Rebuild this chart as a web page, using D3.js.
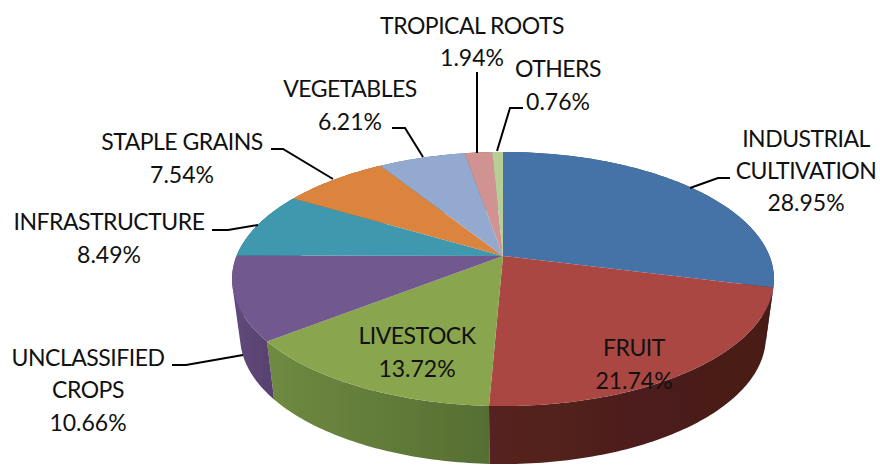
<!DOCTYPE html>
<html>
<head>
<meta charset="utf-8">
<script src="https://cdn.jsdelivr.net/npm/d3@7"></script>
<style>
  html, body { margin: 0; padding: 0; background: #fff; }
  text { font-family: Lato, "Open Sans", sans-serif; font-size: 23px; fill: #111; text-anchor: middle; }
  text.word { letter-spacing: -0.5px; }
</style>
</head>
<body>
<svg id="chart" width="880" height="466"></svg>
<script>
// Data
var categories = [["INDUSTRIAL", "CULTIVATION"], ["FRUIT"], ["LIVESTOCK"], ["UNCLASSIFIED", "CROPS"], ["INFRASTRUCTURE"], ["STAPLE GRAINS"], ["VEGETABLES"], ["TROPICAL ROOTS"], ["OTHERS"]];
var shares = [28.95, 21.74, 13.72, 10.66, 8.49, 7.54, 6.21, 1.94, 0.76];

// Styles
var topColors = ["#4573a7", "#aa4643", "#89a54e", "#71588f", "#4198af", "#db843d", "#93a9cf", "#d19392", "#b9cd96"];
var wallLeft = ["#2f4d72", "#552220", "#6f8a40", "#604a7c", "#2c6676", "#94592a", "#64738d", "#8e6463", "#7e8b66"];
var wallRight = ["#24405f", "#471b17", "#566e33", "#57416f", "#2c6676", "#94592a", "#64738d", "#8e6463", "#7e8b66"];

// Label layout: x of each block and the baseline of each of its lines
var labelX = [806, 634, 417, 88, 109, 182, 350, 472, 558];
var labelY = [[147, 179, 211], [356, 389], [344, 377], [366, 398, 431], [230, 263], [150, 183], [97, 130], [34, 66], [77, 110]];

// Leader lines
var leaders = [
  [[690, 188], [718, 178], [730, 178]],
  [[243, 355], [186, 365], [172, 365]],
  [[258, 225], [228, 230], [212, 230]],
  [[333, 179], [283, 149], [271, 149]],
  [[423, 157], [405, 128], [392, 128]],
  [[477, 153], [477, 72]],
  [[497, 151], [510, 108], [523, 108]]
];

var svg = d3.select("#chart");

// Tilted disc: circle seen in perspective, apex sits above the middle of the ellipse
var cx = 503, cy = 256, radiusX = 266.5, radiusY = 122.9, tilt = -0.181;
var depth = 58, bottomScale = 0.97;

function project(angle) {
  var u = Math.sin(angle), v = -Math.cos(angle);
  var d = 1 + tilt * v;
  return [cx + radiusX * u / d, cy + radiusY * v / d];
}

function projectBottom(angle) {
  var p = project(angle);
  return [cx + (p[0] - cx) * bottomScale, p[1] + depth];
}

var pie = d3.pie().sort(null).value(function(d) { return d; }).startAngle(0).endAngle(2 * Math.PI);
var slices = pie(shares);
var line = d3.line();
var percent = function(v) { return d3.format(".2f")(v) + "%"; };

function arcAngles(d) {
  var steps = Math.max(2, Math.ceil((d.endAngle - d.startAngle) * 60));
  return d3.range(steps + 1).map(function(i) {
    return d.startAngle + (d.endAngle - d.startAngle) * i / steps;
  });
}

function topPath(d) {
  return line([[cx, cy]].concat(arcAngles(d).map(project))) + "Z";
}

// Wall is a strip of quads, all wound the same way so the silhouette fills in
function wallPath(d) {
  var a = arcAngles(d);
  return d3.range(a.length - 1).map(function(i) {
    var q = [project(a[i]), project(a[i + 1]), projectBottom(a[i + 1]), projectBottom(a[i])];
    if (d3.polygonArea(q) < 0) q.reverse();
    return line(q) + "Z";
  }).join("");
}

// Wall shading runs left to right
var defs = svg.append("defs");
slices.forEach(function(d, i) {
  var g = defs.append("linearGradient")
    .attr("id", "wall" + i)
    .attr("gradientUnits", "objectBoundingBox");
  g.append("stop").attr("offset", "0%").attr("stop-color", wallLeft[i]);
  g.append("stop").attr("offset", "100%").attr("stop-color", wallRight[i]);
});
defs.append("filter").attr("id", "soft")
  .append("feGaussianBlur").attr("stdDeviation", 0.5);

var pieGroup = svg.append("g").attr("filter", "url(#soft)");

pieGroup.append("g").selectAll("path")
  .data(slices)
  .enter()
  .append("path")
    .attr("d", wallPath)
    .attr("fill", function(d, i) { return "url(#wall" + i + ")"; });

pieGroup.append("g").selectAll("path")
  .data(slices)
  .enter()
  .append("path")
    .attr("d", topPath)
    .attr("fill", function(d, i) { return topColors[i]; });

// Leader lines
svg.append("g").selectAll("path")
  .data(leaders)
  .enter()
  .append("path")
    .attr("d", function(d) { return line(d); })
    .attr("fill", "none")
    .attr("stroke", "#000")
    .attr("stroke-width", 2);

// Labels: name lines, then the share
var labelLines = d3.merge(shares.map(function(v, i) {
  return categories[i].concat(percent(v)).map(function(t, j) {
    return { text: t, x: labelX[i], y: labelY[i][j] };
  });
}));

svg.append("g").selectAll("text")
  .data(labelLines)
  .enter()
  .append("text")
    .attr("class", function(d) { return d.text.indexOf("%") < 0 ? "word" : "share"; })
    .attr("x", function(d) { return d.x; })
    .attr("y", function(d) { return d.y; })
    .text(function(d) { return d.text; });
</script>
</body>
</html>
